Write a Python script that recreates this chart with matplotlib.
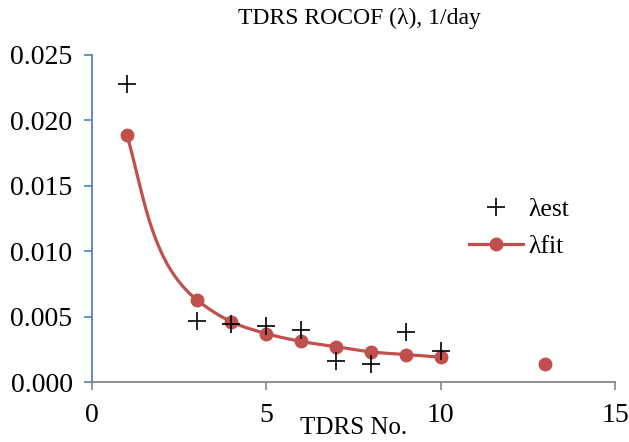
import numpy as np
import matplotlib
matplotlib.use("Agg")
import matplotlib.pyplot as plt
from matplotlib.lines import Line2D

x_est = [1, 3, 4, 5, 6, 7, 8, 9, 10]
y_est = [0.0228, 0.0047, 0.0044, 0.0043, 0.0040, 0.0016, 0.0014, 0.0038, 0.0024]

x_fit = [1, 3, 4, 5, 6, 7, 8, 9, 10]
y_fit = [0.0189, 0.0063, 0.0046, 0.0037, 0.0031, 0.0027, 0.0023, 0.0021, 0.0019]
x_fit_extra = [13]
y_fit_extra = [0.0014]

x_ticks = [0, 5, 10, 15]
y_ticks = [0.000, 0.005, 0.010, 0.015, 0.020, 0.025]

plt.rcParams['font.family'] = ['Liberation Serif', 'DejaVu Serif']
red = '#C0504D'

fig = plt.figure(figsize=(6.29, 4.42), dpi=100)
ax = fig.add_axes([92/629, 60/442, (615-92)/629, (382-55)/442])
ax.set_xlim(0, 15)
ax.set_ylim(0, 0.025)


def unit(v):
    return v / np.linalg.norm(v)


def smooth_curve(xs, ys, n=40):
    # Bezier smoothing done in screen space (like spreadsheet "smoothed line")
    p = ax.transData.transform(np.column_stack([xs, ys]))
    m = len(p)
    seg = np.diff(p, axis=0)
    d = np.linalg.norm(seg, axis=1)
    u = seg / d[:, None]
    T = np.zeros_like(p)
    for i in range(1, m - 1):
        w_prev = d[i] / (d[i-1] + d[i])
        w_next = d[i-1] / (d[i-1] + d[i])
        T[i] = unit(w_prev * u[i-1] + w_next * u[i])
    T[0] = unit(1.25 * u[0] - 0.25 * T[1])
    T[-1] = unit(1.25 * u[-1] - 0.25 * T[-2])
    out = []
    t = np.linspace(0, 1, n)[:, None]
    for i in range(m - 1):
        p1, p2 = p[i], p[i+1]
        c1 = p1 + T[i] * d[i] / 3
        c2 = p2 - T[i+1] * d[i] / 3
        out.append((1-t)**3*p1 + 3*(1-t)**2*t*c1 + 3*(1-t)*t**2*c2 + t**3*p2)
    return ax.transData.inverted().transform(np.vstack(out))


curve = smooth_curve(x_fit, y_fit)
ax.plot(curve[:, 0], curve[:, 1], color=red, lw=2.3, solid_capstyle='round', zorder=2)
ax.plot(x_fit, y_fit, 'o', color=red, ms=9, zorder=3)
ax.plot(x_fit_extra, y_fit_extra, 'o', color=red, ms=9, zorder=3)
ax.plot(x_est, y_est, '+', color='black', ms=12.5, mew=1.2, zorder=4, clip_on=False)

ax.set_xticks(x_ticks)
ax.set_yticks(y_ticks)
ax.set_yticklabels([f"{v:.3f}" for v in y_ticks])
ax.tick_params(axis='both', labelsize=20, direction='out', length=6)
ax.tick_params(axis='y', colors='#4F81BD', labelcolor='black', width=1.2, pad=8)
ax.tick_params(axis='x', colors='#868686', labelcolor='black', width=1.2, pad=9)
for s in ['top', 'right']:
    ax.spines[s].set_visible(False)
ax.spines['left'].set_color('#4F81BD')
ax.spines['left'].set_linewidth(1.3)
ax.spines['bottom'].set_color('#868686')
ax.spines['bottom'].set_linewidth(1.3)

fig.text(359/629, 1 - 18/442, "TDRS ROCOF (λ), 1/day", ha='center', va='center', fontsize=17)
fig.text(354/629, 1 - 428/442, "TDRS No.", ha='center', va='center', fontsize=18)

handles = [
    Line2D([], [], marker='+', color='black', ls='none', ms=12.5, mew=1.2),
    Line2D([], [], marker='o', color=red, lw=2.3, ms=9),
]
leg = ax.legend(handles, ['λest', 'λfit'], loc='center left', bbox_to_anchor=(0.677, 0.472),
                frameon=False, fontsize=18.5, handlelength=2.1, handletextpad=0.2, labelspacing=0.55)

fig.savefig('out.png', dpi=100)
